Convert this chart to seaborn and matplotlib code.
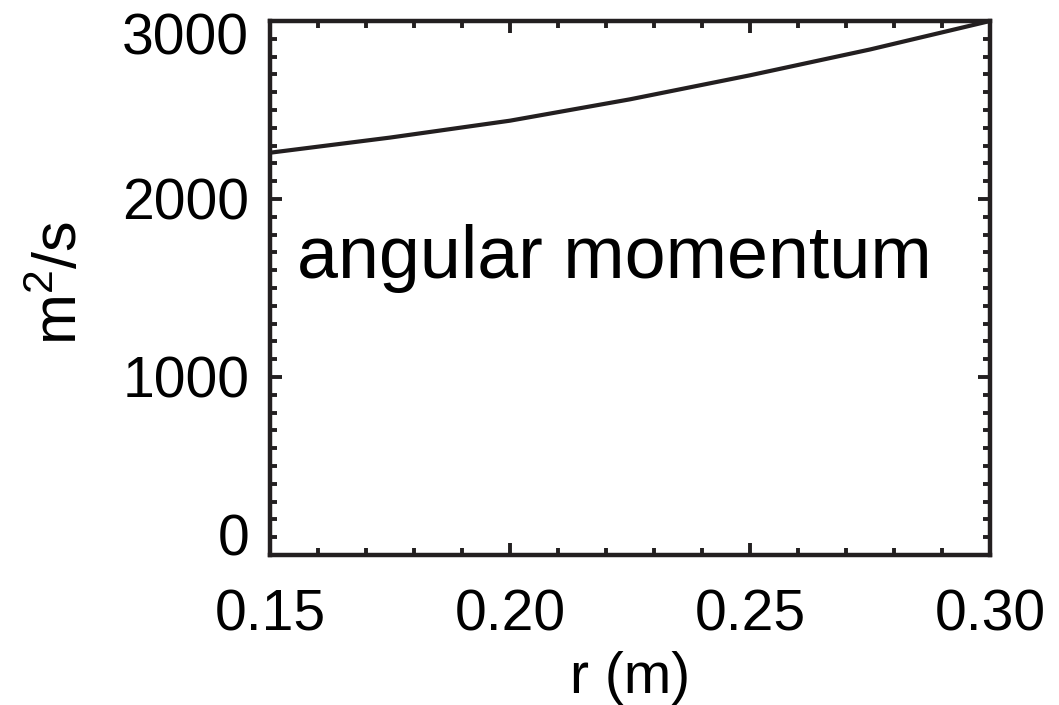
import matplotlib
matplotlib.use("Agg")
import matplotlib.pyplot as plt
import matplotlib.transforms as mtransforms
from matplotlib.ticker import MultipleLocator
import numpy as np
import pandas as pd
import seaborn as sns

# radius (m) and specific angular momentum (m^2/s)
radius = [0.150, 0.175, 0.200, 0.225, 0.250, 0.275, 0.300]
ang_mom = [2260, 2345, 2440, 2560, 2695, 2840, 3000]

x_ticks = [0.15, 0.20, 0.25, 0.30]
x_tick_labels = ["0.15", "0.20", "0.25", "0.30"]
y_ticks = [0, 1000, 2000, 3000]
y_tick_labels = ["0", "1000", "2000", "3000"]

ink = "#231f20"

sns.set_style("ticks")
plt.rcParams["font.family"] = ["Liberation Sans", "DejaVu Sans"]
plt.rcParams["mathtext.fontset"] = "custom"
plt.rcParams["mathtext.rm"] = "Liberation Sans"

df = pd.DataFrame({"r": radius, "L": ang_mom})

fig = plt.figure(figsize=(10.59, 7.05), dpi=100)
ax = fig.add_axes([270 / 1059, 150 / 705, 720 / 1059, 534 / 705])

sns.lineplot(data=df, x="r", y="L", ax=ax, color=ink, linewidth=3.0)

ax.set_xlim(0.15, 0.30)
ax.set_ylim(0, 3000)
ax.set_xticks(x_ticks)
ax.set_xticklabels(x_tick_labels)
ax.set_yticks(y_ticks)
ax.set_yticklabels(y_tick_labels)
ax.xaxis.set_minor_locator(MultipleLocator(0.01))
ax.yaxis.set_minor_locator(MultipleLocator(100))

for s in ax.spines.values():
    s.set_visible(True)
    s.set_linewidth(3.2)
    s.set_color(ink)

ax.tick_params(which="both", direction="in", top=True, right=True,
               color=ink, width=2.8)
ax.tick_params(which="major", length=8.5)
ax.tick_params(which="minor", length=5.2)
ax.tick_params(axis="x", which="major", labelsize=41, pad=24, labelcolor="black")
ax.tick_params(axis="y", which="major", labelsize=41, pad=15, labelcolor="black")

ax.set_xlabel("r (m)", fontsize=41, labelpad=6, color="black")
ax.set_ylabel(r"m$^2$/s", fontsize=44, color="black")
ax.yaxis.set_label_coords(-0.25, 0.51)

# keep the end labels of the y axis inside the frame height
ylabels = ax.get_yticklabels()
ylabels[0].set_va("baseline")
ylabels[-1].set_va("top")
ylabels[-1].set_transform(ylabels[-1].get_transform() +
                          mtransforms.ScaledTranslation(0, 6 / 72, fig.dpi_scale_trans))

ax.text(0.037, 0.555, "angular momentum", transform=ax.transAxes,
        fontsize=53, color="black", ha="left", va="center")

fig.savefig("out.png", dpi=100)
